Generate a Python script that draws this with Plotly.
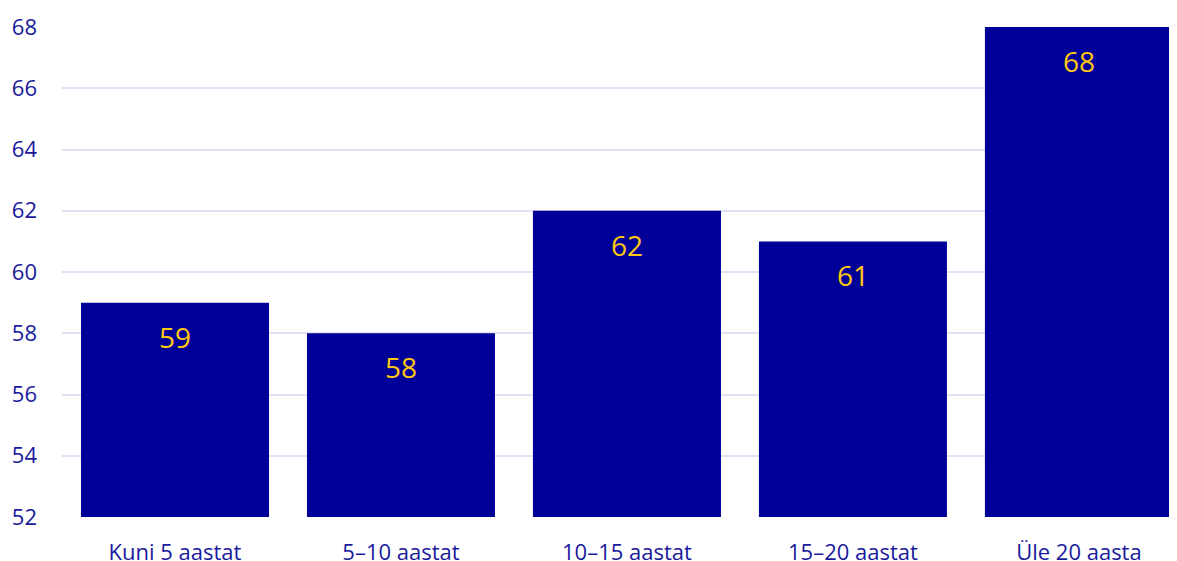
import plotly.graph_objects as go

categories = ["Kuni 5 aastat", "5–10 aastat", "10–15 aastat", "15–20 aastat", "Üle 20 aasta"]
values = [59, 58, 62, 61, 68]
y_ticks = [52, 54, 56, 58, 60, 62, 64, 66, 68]

BAR = "#000099"
TXT = "#1a1a9c"
LBL = "#FFC90E"
FONT = "Open Sans"

fig = go.Figure()
fig.add_trace(go.Bar(
    x=categories, y=values, marker=dict(color=BAR, line=dict(width=0)),
    width=0.832, hoverinfo="skip",
))
for c, v in zip(categories, values):
    fig.add_annotation(x=c, y=v, text=str(v), showarrow=False, yanchor="middle",
                       yshift=-34, font=dict(family=FONT, size=28, color=LBL))

fig.update_layout(
    width=1177, height=561,
    margin=dict(l=54, r=8, t=19, b=52, autoexpand=False),
    paper_bgcolor="white", plot_bgcolor="white",
    showlegend=False,
    font=dict(family=FONT, size=22, color=TXT),
    xaxis=dict(range=[-0.5, 4.434], showgrid=False, showline=False, zeroline=False,
               automargin=False,
               ticks="", ticklabelstandoff=20, tickfont=dict(size=22, color=TXT)),
    yaxis=dict(range=[52, 68], tickvals=y_ticks, showgrid=True, gridcolor="#e2e0f4",
               gridwidth=1.5, zeroline=False, showline=False, ticks="", automargin=False,
               ticklabelstandoff=24, tickfont=dict(size=22, color=TXT)),
)
fig.write_html("out.html")
